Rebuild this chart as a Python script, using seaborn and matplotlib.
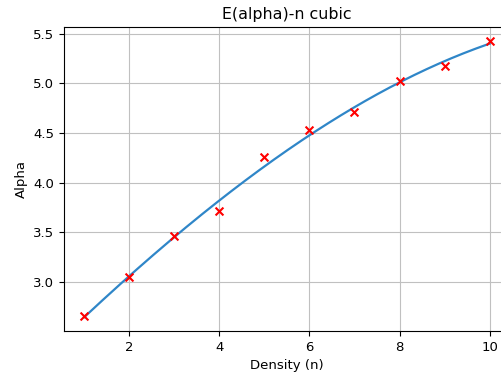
import numpy as np
import pandas as pd
import matplotlib
matplotlib.use("Agg")
import matplotlib.pyplot as plt
import seaborn as sns

# Measured alpha against particle density
density = [1, 2, 3, 4, 5, 6, 7, 8, 9, 10]
alpha = [2.66, 3.05, 3.46, 3.72, 4.26, 4.53, 4.71, 5.02, 5.18, 5.43]

df = pd.DataFrame({"n": density, "alpha": alpha})

# Cubic least-squares fit evaluated on a fine grid
coef = np.polyfit(df["n"], df["alpha"], 3)
n_fine = np.linspace(min(density), max(density), 200)
fit = pd.DataFrame({"n": n_fine, "alpha": np.polyval(coef, n_fine)})

plt.rcParams["font.family"] = ["DejaVu Sans"]

fig = plt.figure(figsize=(5.01, 3.80), dpi=100)
ax = fig.add_axes([0.1277, 0.129, 0.89, 0.8])

sns.lineplot(data=fit, x="n", y="alpha", ax=ax, color="#2f86c8", linewidth=1.6)
sns.scatterplot(data=df, x="n", y="alpha", ax=ax, marker="x", color="red",
                s=32, linewidth=1.5, zorder=3)

ax.grid(True, color="#c0c0c0", linewidth=0.8)
ax.set_axisbelow(True)
ax.set_title("E(alpha)-n cubic", fontsize=11.45)
ax.set_xlabel("Density (n)", fontsize=9.5)
ax.set_ylabel("Alpha", fontsize=9.5)
ax.tick_params(labelsize=9.5)

fig.savefig("out.png", dpi=100)
